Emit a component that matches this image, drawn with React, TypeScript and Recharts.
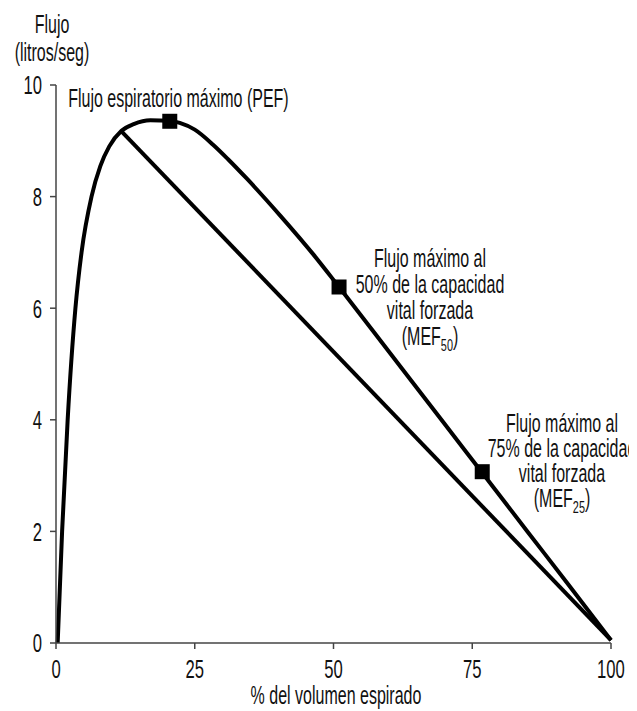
import React from 'react';
import { ComposedChart, Line, Scatter, XAxis, YAxis } from 'recharts';

// curva flujo-volumen (contorno exterior)
const curveVolume = [0.3, 1.1, 2.1, 3.5, 4.6, 6.4, 8.0, 9.6, 11.8, 14, 17, 20.5, 22.3, 25, 28.3, 31, 34.4, 40.4, 46.4, 51, 60, 70, 76.8, 85, 92, 100];
const curveFlow = [0, 2, 4, 6, 7, 8, 8.55, 8.9, 9.18, 9.3, 9.37, 9.36, 9.32, 9.2, 8.93, 8.67, 8.32, 7.66, 6.96, 6.38, 5.22, 3.93, 3.05, 1.99, 1.09, 0.05];

// recta desde el codo de la curva hasta el final
const diagVolume = [11.8, 100];
const diagFlow = [9.17, 0.05];

// PEF, MEF50, MEF25
const markerVolume = [20.5, 51, 76.8];
const markerFlow = [9.35, 6.38, 3.07];

const xTicks = [0, 25, 50, 75, 100];
const yTicks = [0, 2, 4, 6, 8, 10];

const FONT = '"Liberation Sans", Arial, sans-serif';
const SQUEEZE = 0.64;

const toRows = (xs: number[], ys: number[]) => xs.map((x, i) => ({ x, y: ys[i] }));

const curveData = toRows(curveVolume, curveFlow);
const diagData = toRows(diagVolume, diagFlow);
const markerData = toRows(markerVolume, markerFlow);

function XTick({ x, y, payload }: any) {
  return (
    <g transform={`translate(${x},${y})`}>
      <text transform={`scale(${SQUEEZE},1)`} textAnchor="middle" dy="0.71em" fontSize={26} fontFamily={FONT} fill="#111">
        {payload.value}
      </text>
    </g>
  );
}

function YTick({ x, y, payload }: any) {
  return (
    <g transform={`translate(${x},${y})`}>
      <text transform={`scale(${SQUEEZE},1)`} textAnchor="end" dy="0.36em" fontSize={26} fontFamily={FONT} fill="#111">
        {payload.value}
      </text>
    </g>
  );
}

const Square = (props: any) => (
  <rect x={props.cx - 7.5} y={props.cy - 7.5} width={15} height={15} fill="#000" />
);

function Note({ cx, top, width, children, lineHeight = 25 }: any) {
  return (
    <div
      style={{
        position: 'absolute',
        left: cx - width / 2,
        top,
        width,
        textAlign: 'center',
        fontFamily: FONT,
        fontSize: 25,
        lineHeight: `${lineHeight}px`,
        color: '#111',
        transform: `scaleX(${SQUEEZE})`,
        transformOrigin: 'center',
        whiteSpace: 'nowrap',
      }}
    >
      {children}
    </div>
  );
}

const Sub = ({ children }: any) => (
  <span style={{ fontSize: 17, position: 'relative', top: 6 }}>{children}</span>
);

export default function App() {
  return (
    <div style={{ position: 'relative', width: 637, height: 711, marginLeft: -8, marginTop: -8, background: '#fff' }}>
      <ComposedChart width={637} height={711} margin={{ top: 85, right: 26, left: 0, bottom: 0 }}>
        <XAxis
          type="number"
          dataKey="x"
          domain={[0, 100]}
          ticks={xTicks}
          height={68}
          tickSize={6}
          tickMargin={11}
          axisLine={{ stroke: '#444', strokeWidth: 1.5 }}
          tickLine={{ stroke: '#444', strokeWidth: 1.5 }}
          tick={<XTick />}
        />
        <YAxis
          type="number"
          dataKey="y"
          domain={[0, 10]}
          ticks={yTicks}
          width={56}
          tickSize={6}
          tickMargin={8}
          axisLine={{ stroke: '#444', strokeWidth: 1.5 }}
          tickLine={{ stroke: '#444', strokeWidth: 1.5 }}
          tick={<YTick />}
        />
        <Line data={diagData} dataKey="y" type="linear" stroke="#000" strokeWidth={4} dot={false} isAnimationActive={false} />
        <Line data={curveData} dataKey="y" type="monotone" stroke="#000" strokeWidth={4} strokeLinejoin="round" dot={false} isAnimationActive={false} />
        <Scatter data={markerData} dataKey="y" shape={<Square />} isAnimationActive={false} />
      </ComposedChart>

      <Note cx={52} top={10} width={140} lineHeight={28}>
        Flujo<br />(litros/seg)
      </Note>
      <Note cx={177} top={88} width={340} lineHeight={20}>
        Flujo espiratorio máximo (PEF)
      </Note>
      <Note cx={430} top={245} width={260} lineHeight={26}>
        Flujo máximo al<br />50% de la capacidad<br />vital forzada<br />(MEF<Sub>50</Sub>)
      </Note>
      <Note cx={562} top={411} width={250} lineHeight={25}>
        Flujo máximo al<br />75% de la capacidad<br />vital forzada<br />(MEF<Sub>25</Sub>)
      </Note>
      <Note cx={336} top={685} width={300} lineHeight={20}>
        % del volumen espirado
      </Note>
    </div>
  );
}
